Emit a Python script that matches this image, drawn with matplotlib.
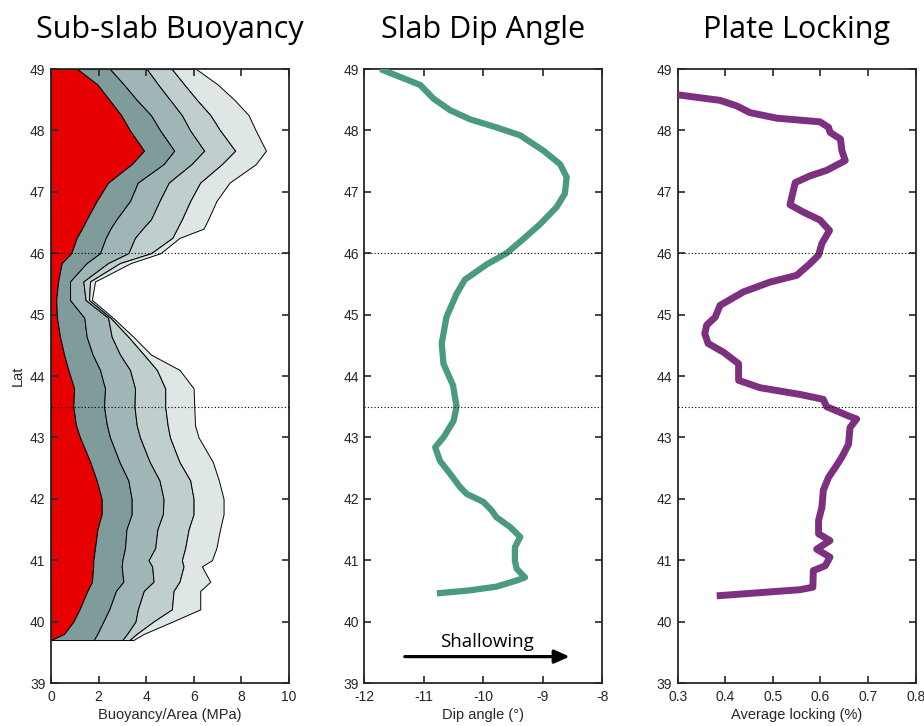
import numpy as np
import matplotlib
matplotlib.use('Agg')
import matplotlib.pyplot as plt

plt.rcParams['font.family'] = ['Liberation Sans', 'DejaVu Sans']
plt.rcParams['axes.unicode_minus'] = False

# sub-slab buoyancy, cumulative curves (MPa) on a common latitude grid
lat = [49.0, 48.75, 48.5, 48.25, 48.0, 47.67, 47.45, 47.15, 46.85, 46.55, 46.4, 46.25, 46.0,
       45.84, 45.54, 45.24, 44.95, 44.64, 44.35, 44.1, 43.8, 43.5, 43.2, 43.0, 42.6, 42.3,
       42.0, 41.75, 41.5, 41.2, 41.0, 40.9, 40.65, 40.5, 40.2, 40.0, 39.8, 39.7]
b1 = [1.11, 1.95, 2.45, 2.95, 3.32, 3.91, 3.39, 2.4, 1.92, 1.5, 1.3, 1.08, 0.85, 0.45, 0.3,
      0.22, 0.25, 0.38, 0.55, 0.73, 0.97, 0.94, 1.05, 1.22, 1.65, 1.92, 2.13, 2.13, 1.95,
      1.85, 1.78, 1.77, 1.72, 1.53, 1.2, 0.94, 0.55, 0.0]
b2 = [2.48, 3.06, 3.6, 4.2, 4.59, 5.18, 4.73, 3.65, 3.32, 2.75, 2.5, 2.3, 2.06, 1.5, 0.8,
      0.8, 1.4, 1.5, 1.75, 2.06, 2.27, 2.23, 2.35, 2.48, 2.88, 3.25, 3.39, 3.39, 3.17,
      3.11, 3.0, 2.97, 3.04, 2.73, 2.45, 2.2, 1.95, 1.8]
b3 = [4.03, 4.5, 5.0, 5.5, 5.85, 6.44, 5.9, 4.95, 4.56, 4.2, 3.85, 3.53, 3.25, 2.4, 1.36,
      1.45, 2.4, 2.55, 2.9, 3.32, 3.53, 3.51, 3.6, 3.74, 4.15, 4.56, 4.73, 4.7, 4.47,
      4.38, 4.1, 4.25, 4.31, 3.9, 3.65, 3.55, 3.2, 3.0]
b4 = [5.08, 5.6, 6.13, 6.7, 7.11, 7.74, 7.18, 6.27, 5.85, 5.5, 5.3, 5.1, 4.2, 2.9, 1.64,
      1.6, 2.5, 3.25, 3.9, 4.45, 4.8, 4.8, 4.9, 5.0, 5.4, 5.85, 5.99, 5.99, 5.78,
      5.64, 5.5, 5.57, 5.4, 5.15, 5.08, 4.3, 3.6, 3.3]
b5 = [6.1, 7.0, 7.7, 8.3, 8.6, 9.03, 8.6, 7.5, 6.95, 6.6, 6.41, 5.4, 4.6, 3.35, 1.85,
      1.72, 2.6, 3.46, 4.2, 5.4, 5.99, 6.02, 6.05, 6.2, 6.8, 7.05, 7.25, 7.25, 7.1,
      6.95, 6.76, 6.34, 6.69, 6.27, 6.27, 5.1, 3.9, 3.46]

# slab dip angle (deg) vs latitude
dip_lat = [49.0, 48.74, 48.52, 48.33, 48.18, 48.05, 47.92, 47.67, 47.45, 47.24, 46.97, 46.75,
           46.47, 46.23, 46.0, 45.82, 45.57, 45.34, 44.96, 44.53, 44.2, 43.85, 43.5, 43.27,
           43.0, 42.84, 42.62, 42.41, 42.19, 42.08, 41.95, 41.81, 41.7, 41.54, 41.38, 41.21,
           40.99, 40.86, 40.72, 40.67, 40.57, 40.51, 40.46]
dip = [-11.73, -11.06, -10.84, -10.56, -10.22, -9.78, -9.38, -8.99, -8.71, -8.6, -8.63, -8.77,
       -9.05, -9.33, -9.61, -9.94, -10.31, -10.45, -10.62, -10.7, -10.67, -10.51, -10.45, -10.5,
       -10.67, -10.81, -10.73, -10.56, -10.39, -10.28, -10.0, -9.86, -9.78, -9.55, -9.38, -9.47,
       -9.47, -9.44, -9.3, -9.44, -9.78, -10.22, -10.78]

# average plate locking vs latitude
lock_lat = [48.58, 48.49, 48.4, 48.29, 48.2, 48.14, 48.05, 47.97, 47.86, 47.67, 47.51, 47.35,
            47.26, 47.15, 46.79, 46.67, 46.54, 46.37, 46.16, 45.97, 45.83, 45.64, 45.53, 45.37,
            45.15, 44.96, 44.83, 44.69, 44.53, 44.39, 44.2, 43.93, 43.81, 43.7, 43.62, 43.5,
            43.34, 43.3, 43.16, 42.89, 42.68, 42.51, 42.35, 42.14, 41.86, 41.65, 41.43, 41.32,
            41.18, 41.05, 40.91, 40.83, 40.56, 40.52, 40.42]
lock = [0.3, 0.389, 0.424, 0.452, 0.508, 0.599, 0.617, 0.62, 0.642, 0.645, 0.652, 0.613,
        0.578, 0.547, 0.536, 0.564, 0.599, 0.619, 0.603, 0.596, 0.578, 0.55, 0.494, 0.438,
        0.389, 0.379, 0.361, 0.357, 0.364, 0.396, 0.428, 0.428, 0.473, 0.557, 0.606, 0.613,
        0.662, 0.676, 0.662, 0.659, 0.645, 0.631, 0.617, 0.606, 0.603, 0.596, 0.596, 0.62,
        0.592, 0.62, 0.61, 0.585, 0.584, 0.557, 0.382]

ref_lats = [46.0, 43.5]

fig = plt.figure(figsize=(9.24, 7.26), dpi=100)
W = 0.2576
ax1 = fig.add_axes([0.0552, 0.0592, W, 0.8457])
ax2 = fig.add_axes([0.3943, 0.0592, W, 0.8457])
ax3 = fig.add_axes([0.7334, 0.0592, W, 0.8457])

tcol = '#262626'
title_font = dict(family=['Open Sans', 'DejaVu Sans'], fontsize=22, color='k')

def style(ax):
    ax.set_ylim(39, 49)
    ax.set_yticks(range(39, 50))
    ax.tick_params(direction='in', length=5, width=1.2, top=True, right=True,
                   labelsize=10, colors=tcol)
    ax.tick_params(axis='x', pad=5)
    ax.tick_params(axis='y', pad=4)
    for s in ax.spines.values():
        s.set_linewidth(1.3)
        s.set_color(tcol)
    for y in ref_lats:
        ax.axhline(y, color='k', ls=(0, (1, 2)), lw=0.8, zorder=5)

# left: stacked buoyancy bands
lat_a = np.array(lat)
curves = [np.zeros(len(lat)), np.array(b1), np.array(b2), np.array(b3), np.array(b4), np.array(b5)]
band_cols = ['#e60000', '#7f9b9a', '#a0b6b6', '#c0cfce', '#dfe6e6']
for i in range(5):
    ax1.fill_betweenx(lat_a, curves[i], curves[i + 1], facecolor=band_cols[i],
                      edgecolor='k', linewidth=0.7)
ax1.set_xlim(0, 10)
ax1.set_xticks(range(0, 11, 2))
style(ax1)
ax1.set_xlabel('Buoyancy/Area (MPa)', fontsize=10.5, color=tcol, labelpad=3)
ax1.set_ylabel('Lat', fontsize=10.5, color=tcol, labelpad=4)
ax1.set_title('Sub-slab Buoyancy', pad=22, **title_font)

# middle: dip angle
ax2.plot(dip, dip_lat, color='#4a9a7c', lw=4.5, solid_capstyle='butt', zorder=3)
ax2.set_xlim(-12, -8)
ax2.set_xticks(range(-12, -7))
style(ax2)
ax2.set_xlabel('Dip angle (°)', fontsize=10.5, color=tcol, labelpad=3)
ax2.set_title('Slab Dip Angle', pad=22, **title_font)
ax2.annotate('', xy=(-8.55, 39.43), xytext=(-11.32, 39.43),
             arrowprops=dict(arrowstyle='-|>,head_length=0.9,head_width=0.4',
                             lw=2.3, color='k', shrinkA=0, shrinkB=0))
ax2.text(-9.94, 39.52, 'Shallowing', ha='center', va='bottom',
         family=['Open Sans', 'DejaVu Sans'], fontsize=13.5, color='k')

# right: plate locking
ax3.plot(lock, lock_lat, color='#7d3080', lw=5, solid_capstyle='butt', zorder=3)
ax3.set_xlim(0.3, 0.8)
ax3.set_xticks([0.3, 0.4, 0.5, 0.6, 0.7, 0.8])
ax3.set_xticklabels(['0.3', '0.4', '0.5', '0.6', '0.7', '0.8'])
style(ax3)
ax3.set_xlabel('Average locking (%)', fontsize=10.5, color=tcol, labelpad=3)
ax3.set_title('Plate Locking', pad=22, **title_font)

fig.savefig('out.png', dpi=100)
